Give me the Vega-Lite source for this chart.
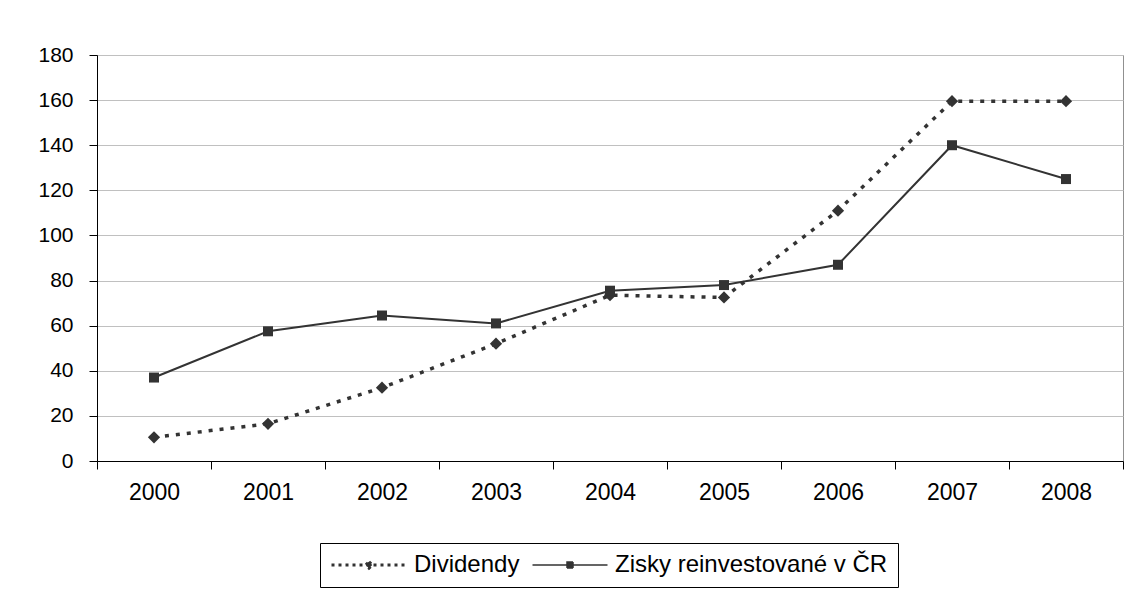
{
  "$schema": "https://vega.github.io/schema/vega-lite/v6.json",
  "width": 1026,
  "height": 406,
  "autosize": {"type": "none"},
  "padding": {"left": 97, "top": 55, "right": 8, "bottom": 131},
  "background": "white",
  "config": {
    "view": {"stroke": "#909090", "strokeWidth": 1},
    "font": "Liberation Sans",
    "axis": {"labelFont": "Liberation Sans", "labelColor": "#000", "domainColor": "#000", "tickColor": "#000", "title": null}
  },
  "data": {
    "values": [
      {"year": "2000", "series": "Dividendy", "value": 10.5},
      {"year": "2001", "series": "Dividendy", "value": 16.5},
      {"year": "2002", "series": "Dividendy", "value": 32.5},
      {"year": "2003", "series": "Dividendy", "value": 52},
      {"year": "2004", "series": "Dividendy", "value": 73.5},
      {"year": "2005", "series": "Dividendy", "value": 72.5},
      {"year": "2006", "series": "Dividendy", "value": 111},
      {"year": "2007", "series": "Dividendy", "value": 159.5},
      {"year": "2008", "series": "Dividendy", "value": 159.5},
      {"year": "2000", "series": "Zisky reinvestované v ČR", "value": 37},
      {"year": "2001", "series": "Zisky reinvestované v ČR", "value": 57.5},
      {"year": "2002", "series": "Zisky reinvestované v ČR", "value": 64.5},
      {"year": "2003", "series": "Zisky reinvestované v ČR", "value": 61},
      {"year": "2004", "series": "Zisky reinvestované v ČR", "value": 75.5},
      {"year": "2005", "series": "Zisky reinvestované v ČR", "value": 78},
      {"year": "2006", "series": "Zisky reinvestované v ČR", "value": 87},
      {"year": "2007", "series": "Zisky reinvestované v ČR", "value": 140},
      {"year": "2008", "series": "Zisky reinvestované v ČR", "value": 125}
    ]
  },
  "encoding": {
    "x": {
      "field": "year", "type": "ordinal",
      "scale": {"type": "band", "paddingInner": 0, "paddingOuter": 0},
      "axis": {"labelAngle": 0, "tickBand": "extent", "tickSize": 8, "labelPadding": 12, "labelFontSize": 23, "grid": false}
    },
    "y": {
      "field": "value", "type": "quantitative",
      "scale": {"domain": [0, 180], "nice": false},
      "axis": {"values": [0, 20, 40, 60, 80, 100, 120, 140, 160, 180], "grid": true, "gridColor": "#c0c0c0", "gridWidth": 1, "tickSize": 8, "labelPadding": 16, "labelFontSize": 21}
    }
  },
  "layer": [
    {
      "transform": [{"filter": "datum.series === 'Dividendy'"}],
      "mark": {"type": "line", "color": "#333333", "strokeWidth": 3.5, "strokeDash": [4, 7]}
    },
    {
      "transform": [{"filter": "datum.series !== 'Dividendy'"}],
      "mark": {"type": "line", "color": "#333333", "strokeWidth": 2}
    },
    {
      "transform": [{"filter": "datum.series === 'Dividendy'"}],
      "mark": {"type": "point", "filled": true, "color": "#333333", "opacity": 1, "shape": "diamond", "size": 150}
    },
    {
      "transform": [{"filter": "datum.series !== 'Dividendy'"}],
      "mark": {"type": "point", "filled": true, "color": "#333333", "opacity": 1, "shape": "square", "size": 100}
    },
    {
      "transform": [{"filter": "datum.value < -1000"}],
      "mark": {"type": "point", "filled": true, "color": "#333333", "stroke": "#333333", "strokeWidth": 2, "opacity": 1, "size": 100},
      "encoding": {
        "shape": {
          "field": "series", "type": "nominal",
          "scale": {
            "domain": ["Dividendy", "Zisky reinvestované v ČR"],
            "range": ["M-7.5,0H7.5M0,-0.65L0.65,0L0,0.65L-0.65,0Z", "M-7.5,0H7.5M-0.6,-0.6H0.6V0.6H-0.6Z"]
          },
          "legend": {
            "title": null,
            "orient": "none",
            "legendX": 223,
            "legendY": 488,
            "direction": "horizontal",
            "strokeColor": "#000",
            "padding": 10,
            "labelFont": "Liberation Sans",
            "labelFontSize": 24,
            "labelColor": "#000",
            "labelLimit": 0,
            "symbolSize": 100,
            "symbolOffset": 27,
            "labelOffset": 33,
            "columnPadding": 9
          }
        },
        "strokeDash": {
          "field": "series", "type": "nominal",
          "scale": {"domain": ["Dividendy", "Zisky reinvestované v ČR"], "range": [[3, 4], [1, 0]]}
        },
        "strokeWidth": {
          "field": "series", "type": "ordinal",
          "scale": {"domain": ["Dividendy", "Zisky reinvestované v ČR"], "range": [3, 1.5]}
        }
      }
    }
  ]
}
